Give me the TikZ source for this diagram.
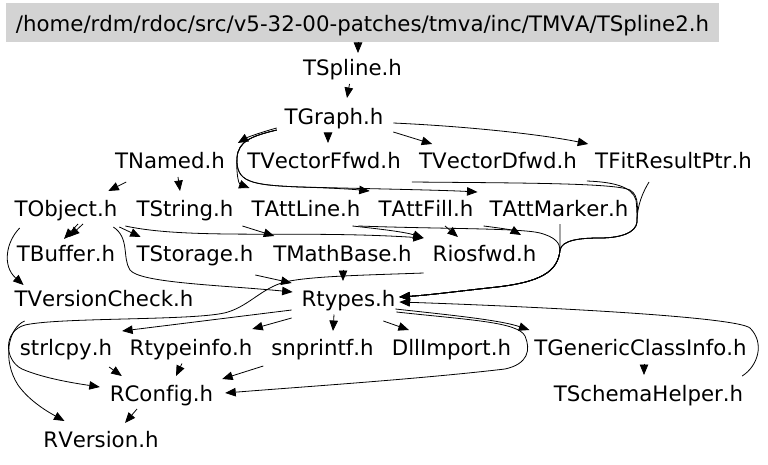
\documentclass[tikz,border=0pt]{standalone}
\usepackage{fontspec}
\setmainfont{DejaVu Sans}[Kerning=Off,Ligatures=NoCommon]
\usetikzlibrary{arrows.meta,calc}
\definecolor{hdr}{HTML}{D3D3D3}
\tikzset{
  lbl/.style={font=\fontsize{21.3}{25}\selectfont, inner sep=3pt, outer sep=0pt, text height=16pt, text depth=5pt},
  dep/.style={draw, line width=0.8pt, -{Triangle[length=10.5pt,width=8.5pt]}},
}
\begin{document}
\begin{tikzpicture}[x=1pt,y=-1pt]
\fill[white] (0,0) rectangle (768,465);
\useasboundingbox (0,0) rectangle (768,465);
% nodes
\node[lbl, fill=hdr, inner sep=0pt, minimum width=713pt, minimum height=39pt, text height=20pt, text depth=2pt] (title) at (362.5,22.5) {/home/rdm/rdoc/src/v5-32-00-patches/tmva/inc/TMVA/TSpline2.h};
\node[lbl] (tspline) at (352.5,70.5) {TSpline.h};
\node[lbl] (tgraph) at (334,119.5) {TGraph.h};
\node[lbl] (tnamed) at (170,163.5) {TNamed.h};
\node[lbl] (tvecf) at (324,163.5) {TVectorFfwd.h};
\node[lbl] (tvecd) at (498,163.5) {TVectorDfwd.h};
\node[lbl] (tfit) at (673.5,163.5) {TFitResultPtr.h};
\node[lbl] (tobject) at (66,210.5) {TObject.h};
\node[lbl] (tstring) at (185,210.5) {TString.h};
\node[lbl] (tattline) at (306,210.5) {TAttLine.h};
\node[lbl] (tattfill) at (426,210.5) {TAttFill.h};
\node[lbl] (tattmarker) at (559,210.5) {TAttMarker.h};
\node[lbl] (tbuffer) at (66,256) {TBuffer.h};
\node[lbl] (tstorage) at (195,256) {TStorage.h};
\node[lbl] (tmathbase) at (342.5,256) {TMathBase.h};
\node[lbl] (riosfwd) at (484.5,256) {Riosfwd.h};
\node[lbl] (tversioncheck) at (104,301) {TVersionCheck.h};
\node[lbl] (rtypes) at (348.5,301) {Rtypes.h};
\node[lbl] (strlcpy) at (66,350) {strlcpy.h};
\node[lbl] (rtypeinfo) at (191,350) {Rtypeinfo.h};
\node[lbl] (snprintf) at (322.5,350) {snprintf.h};
\node[lbl] (dllimport) at (451.5,350) {DllImport.h};
\node[lbl] (tgeneric) at (640.5,350) {TGenericClassInfo.h};
\node[lbl] (rconfig) at (161.5,395.5) {RConfig.h};
\node[lbl] (tschema) at (648.5,395.5) {TSchemaHelper.h};
\node[lbl] (rversion) at (101,442) {RVersion.h};
% edges
\draw[dep] ($(title.south)+(-4.5,0)$) -- ($(tspline.north)+(5.5,-4)$);
\draw[dep] ($(tspline.south)+(-3,0)$) -- ($(tgraph.north)+(13,-8)$);
\draw[dep] ($(tgraph.west)+(-5,8.5)$) .. controls (262,132) and (248,137) .. ($(tnamed.north east)+(10,-7)$);
\draw[dep] ($(tgraph.west)+(-5,10.5)$) .. controls (252,136) and (238,141) .. (237,158) .. controls (236,175) and (239,184) .. ($(tattline.north west)+(1,-9)$);
\draw[dep] ($(tgraph.west)+(-5,10.5)$) .. controls (252,136) and (238,141) .. (237,158) .. controls (236,182) and (250,185) .. (300,187) .. controls (330,188) and (350,189) .. ($(tattfill.north west)+(-6,-6)$);
\draw[dep] ($(tgraph.west)+(-5,10.5)$) .. controls (252,136) and (238,141) .. (237,158) .. controls (236,182) and (250,185) .. (300,187) .. controls (380,189) and (440,190) .. ($(tattmarker.north west)+(-9,-5)$);
\draw[dep] ($(tgraph.south)+(-6,0)$) -- ($(tvecf.north)+(4,-7)$);
\draw[dep] ($(tgraph.south east)+(7,-1)$) -- ($(tvecd.north west)+(16,-6)$);
\draw[dep] ($(tgraph.east)+(7,3.5)$) .. controls (480,127) and (550,136) .. ($(tfit.north west)+(-4,-6)$);
\draw[dep] ($(tnamed.south west)+(14,5)$) -- ($(tobject.north east)+(-12,-6)$);
\draw[dep] ($(tnamed.south)+(8,0)$) -- ($(tstring.north)+(-5,-6)$);
\draw[dep] ($(tobject.south)+(12,0)$) -- ($(tbuffer.north)+(-2,-3.5)$);
\draw[dep] ($(tobject.south)+(17,0)$) -- ($(tbuffer.north)+(3,-5.5)$);
\draw[dep] ($(tobject.south west)+(8,4)$) .. controls (6,242) and (2,266) .. ($(tversioncheck.north west)+(12,-2.5)$);
\draw[dep] ($(tobject.south east)+(-1,3)$) -- ($(tstorage.north west)+(7,-5.5)$);
\draw[dep] ($(tobject.south east)+(5,2)$) .. controls (190,240) and (300,230) .. ($(riosfwd.north west)+(-6,-4.5)$);
\draw[dep] ($(tobject.south east)+(-7,3)$) .. controls (130,238) and (122,258) .. (130,270) .. controls (140,283) and (220,285) .. ($(rtypes.north west)+(-6,4.5)$);
\draw[dep] ($(tstring.south east)+(6,2)$) -- ($(tmathbase.north west)+(4,-6.5)$);
\draw[dep] ($(tattline.south east)+(-11,2)$) .. controls (380,229) and (405,232) .. ($(riosfwd.north west)+(-6,-4.5)$);
\draw[dep] ($(tattline.south east)+(-5,2)$) .. controls (440,229) and (520,228) .. (540,233) .. controls (555,237) and (560,243) .. (560,250) .. controls (558,272) and (540,282) .. (497,287) .. controls (460,291) and (430,295) .. ($(rtypes.east)+(1,-4)$);
\draw[dep] ($(tattfill.south)+(19,2)$) -- ($(riosfwd.north)+(-26.5,-5.5)$);
\draw[dep] ($(tattmarker.south west)+(-3,2)$) .. controls (500,228) and (512,230) .. ($(riosfwd.north)+(36.5,-7.5)$);
\draw[dep] ($(tattmarker.south)+(1,0)$) -- (560,250) .. controls (558,272) and (540,282) .. (497,287) .. controls (460,291) and (430,295) .. ($(rtypes.east)+(1,-4)$);
\draw[dep] ($(tvecf.south east)+(8,5)$) .. controls (520,183) and (615,183) .. (630,190) .. controls (640,196) and (637,210) .. (637,222) .. controls (636,233) and (620,238) .. (600,238) .. controls (580,238) and (562,240) .. (560,250) .. controls (558,272) and (540,282) .. (497,287) .. controls (460,291) and (430,295) .. ($(rtypes.east)+(1,-4)$);
\draw[dep] ($(tvecd.south east)+(7,4)$) .. controls (612,182) and (632,186) .. (636,200) .. controls (637,208) and (637,216) .. (637,222) .. controls (636,233) and (620,238) .. (600,238) .. controls (580,238) and (562,240) .. (560,250) .. controls (558,272) and (540,282) .. (497,287) .. controls (460,291) and (430,295) .. ($(rtypes.east)+(1,-4)$);
\draw[dep] ($(tfit.south)+(-24.5,5)$) .. controls (643,192) and (637,205) .. (637,222) .. controls (636,233) and (620,238) .. (600,238) .. controls (580,238) and (562,240) .. (560,250) .. controls (558,272) and (540,282) .. (497,287) .. controls (460,291) and (430,295) .. ($(rtypes.east)+(1,-4)$);
\draw[dep] ($(tmathbase.south)+(0.5,0)$) -- ($(rtypes.north)+(-5.5,-6.5)$);
\draw[dep] ($(tstorage.south east)+(-1,5.5)$) -- ($(rtypes.north west)+(-7,-4.5)$);
\draw[dep] ($(riosfwd.south west)+(-6,3.5)$) .. controls (370,275) and (310,276) .. (285,282) .. controls (262,288) and (250,305) .. (228,312) .. controls (200,321) and (60,317) .. (25,325) .. controls (3,331) and (4,360) .. (22,369) .. controls (45,379) and (80,384) .. ($(rconfig.west)+(-7,-8.5)$);
\draw[dep] ($(tversioncheck.south west)+(13,6.5)$) .. controls (8,328) and (2,360) .. (18,385) .. controls (30,402) and (50,413) .. ($(rversion.north west)+(24,-7.5)$);
\draw[dep] ($(rtypes.west)+(-7,9)$) -- ($(strlcpy.north east)+(7,-5.5)$);
\draw[dep] ($(rtypes.west)+(-7,17)$) -- ($(rtypeinfo.north east)+(-3,-7.5)$);
\draw[dep] ($(rtypes.south)+(-14.5,0)$) -- ($(snprintf.north)+(10.5,-5.5)$);
\draw[dep] ($(rtypes.south east)+(-15,6.5)$) -- ($(dllimport.north west)+(20,-6.5)$);
\draw[dep] ($(rtypes.east)+(-3,8)$) .. controls (450,315) and (500,320) .. ($(tgeneric.north west)+(-2,-6.5)$);
\draw[dep] ($(rtypes.east)+(-2,11)$) .. controls (470,320) and (518,322) .. (525,336) .. controls (531,350) and (528,364) .. (505,369) .. controls (420,379) and (300,387) .. ($(rconfig.east)+(9,-2.5)$);
\draw[dep] ($(strlcpy.south east)+(-6,3.5)$) -- ($(rconfig.north west)+(15,-6)$);
\draw[dep] ($(rtypeinfo.south)+(-9,0)$) -- ($(rconfig.north)+(14.5,-6)$);
\draw[dep] ($(snprintf.south west)+(-5,2.5)$) -- ($(rconfig.north east)+(6,-3)$);
\draw[dep] ($(rconfig.south)+(-24.5,0)$) -- ($(rversion.north)+(24,-5.5)$);
\draw[dep] ($(tgeneric.south)+(3.5,0)$) -- ($(tschema.north)+(-4.5,-7)$);
\draw[dep] ($(tschema.north east)+(-4,-6)$) .. controls (758,366) and (765,343) .. (750,328) .. controls (735,316) and (520,306) .. ($(rtypes.east)+(1,1)$);
\end{tikzpicture}
\end{document}
